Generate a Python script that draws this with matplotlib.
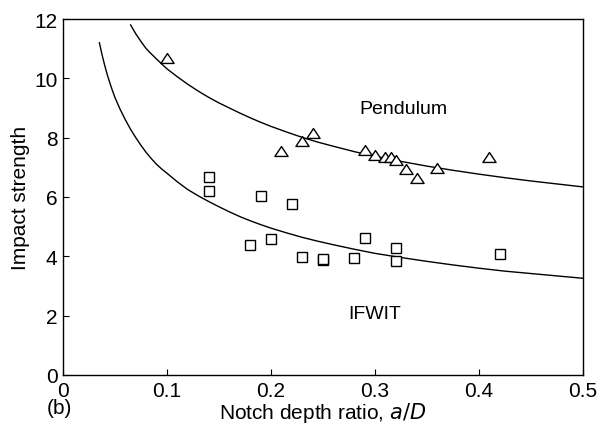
import matplotlib
matplotlib.use("Agg")
import matplotlib.pyplot as plt
from matplotlib.path import Path

plt.rcParams['font.family'] = ['Liberation Sans', 'DejaVu Sans']

# Pendulum data (triangles)
pend_x = [0.10, 0.21, 0.23, 0.24, 0.29, 0.30, 0.31, 0.315, 0.32, 0.33, 0.34, 0.36, 0.41]
pend_y = [10.7, 7.55, 7.9, 8.15, 7.58, 7.4, 7.35, 7.35, 7.25, 6.95, 6.63, 6.97, 7.36]

# IFWIT data (squares)
ifwit_x = [0.14, 0.14, 0.19, 0.22, 0.18, 0.20, 0.23, 0.25, 0.25, 0.28, 0.29, 0.32, 0.32, 0.42]
ifwit_y = [6.68, 6.2, 6.04, 5.75, 4.38, 4.6, 3.98, 3.86, 3.9, 3.95, 4.62, 4.28, 3.83, 4.07]

# Curves
pend_curve_x = [0.065, 0.0675, 0.07, 0.075, 0.08, 0.085, 0.09, 0.095, 0.10, 0.11, 0.12, 0.13, 0.14,
                0.15, 0.16, 0.17, 0.18, 0.19, 0.20, 0.215, 0.23, 0.245, 0.26, 0.28, 0.30,
                0.325, 0.35, 0.375, 0.40, 0.425, 0.45, 0.475, 0.50]
pend_curve_y = [11.8, 11.65, 11.5, 11.24, 11.0, 10.82, 10.65, 10.48, 10.32, 10.05, 9.8, 9.57, 9.36,
                9.17, 9.0, 8.83, 8.67, 8.52, 8.38, 8.19, 8.01, 7.85, 7.71, 7.53, 7.37,
                7.2, 7.04, 6.9, 6.77, 6.65, 6.54, 6.44, 6.34]

ifwit_curve_x = [0.035, 0.0375, 0.04, 0.0425, 0.045, 0.0475, 0.05, 0.055, 0.06, 0.065, 0.07, 0.075,
                 0.08, 0.085, 0.09, 0.095, 0.10, 0.11, 0.12, 0.13, 0.14, 0.15, 0.16, 0.17, 0.18,
                 0.19, 0.20, 0.215, 0.23, 0.245, 0.26, 0.28, 0.30, 0.325, 0.35, 0.375, 0.40,
                 0.425, 0.45, 0.475, 0.50]
ifwit_curve_y = [11.2, 10.8, 10.45, 10.13, 9.85, 9.59, 9.35, 8.95, 8.6, 8.28, 8.0, 7.74,
                 7.5, 7.29, 7.1, 6.94, 6.8, 6.51, 6.25, 6.04, 5.85, 5.67, 5.5, 5.34, 5.2,
                 5.07, 4.95, 4.79, 4.64, 4.51, 4.39, 4.24, 4.1, 3.96, 3.83, 3.71, 3.6,
                 3.5, 3.42, 3.34, 3.26]

x_ticks = [0, 0.1, 0.2, 0.3, 0.4, 0.5]
x_tick_labels = ['0', '0.1', '0.2', '0.3', '0.4', '0.5']
y_ticks = [0, 2, 4, 6, 8, 10, 12]

fig = plt.figure(figsize=(5.97, 4.31), dpi=100)
ax = fig.add_axes([63/597, 1 - 376/431, 520/597, 356/431])

tri = Path([(0, 0.75), (-1, -0.75), (1, -0.75), (0, 0.75)],
           [Path.MOVETO, Path.LINETO, Path.LINETO, Path.CLOSEPOLY])

ax.plot(pend_curve_x, pend_curve_y, color='black', lw=1.0)
ax.plot(ifwit_curve_x, ifwit_curve_y, color='black', lw=1.0)
ax.plot(pend_x, pend_y, linestyle='none', marker=tri, markersize=9.5,
        markerfacecolor='white', markeredgecolor='black', markeredgewidth=1.0)
ax.plot(ifwit_x, ifwit_y, linestyle='none', marker='s', markersize=7.5,
        markerfacecolor='white', markeredgecolor='black', markeredgewidth=1.0)

ax.text(0.327, 8.98, 'Pendulum', ha='center', va='center', fontsize=14)
ax.text(0.30, 2.07, 'IFWIT', ha='center', va='center', fontsize=14)

ax.set_xlim(0, 0.5)
ax.set_ylim(0, 12)
ax.set_xticks(x_ticks)
ax.set_xticklabels(x_tick_labels)
ax.set_yticks(y_ticks)
ax.tick_params(direction='in', length=4, width=0.8, labelsize=15, pad=4)
for s in ax.spines.values():
    s.set_linewidth(1.0)

ax.set_ylabel('Impact strength', fontsize=15, labelpad=3)
ax.set_xlabel('Notch depth ratio, $\\mathit{a/D}$', fontsize=15, labelpad=0)
fig.text(59/597, 1 - 409/431, '(b)', ha='center', va='center', fontsize=15)

fig.savefig('out.png', dpi=100)
